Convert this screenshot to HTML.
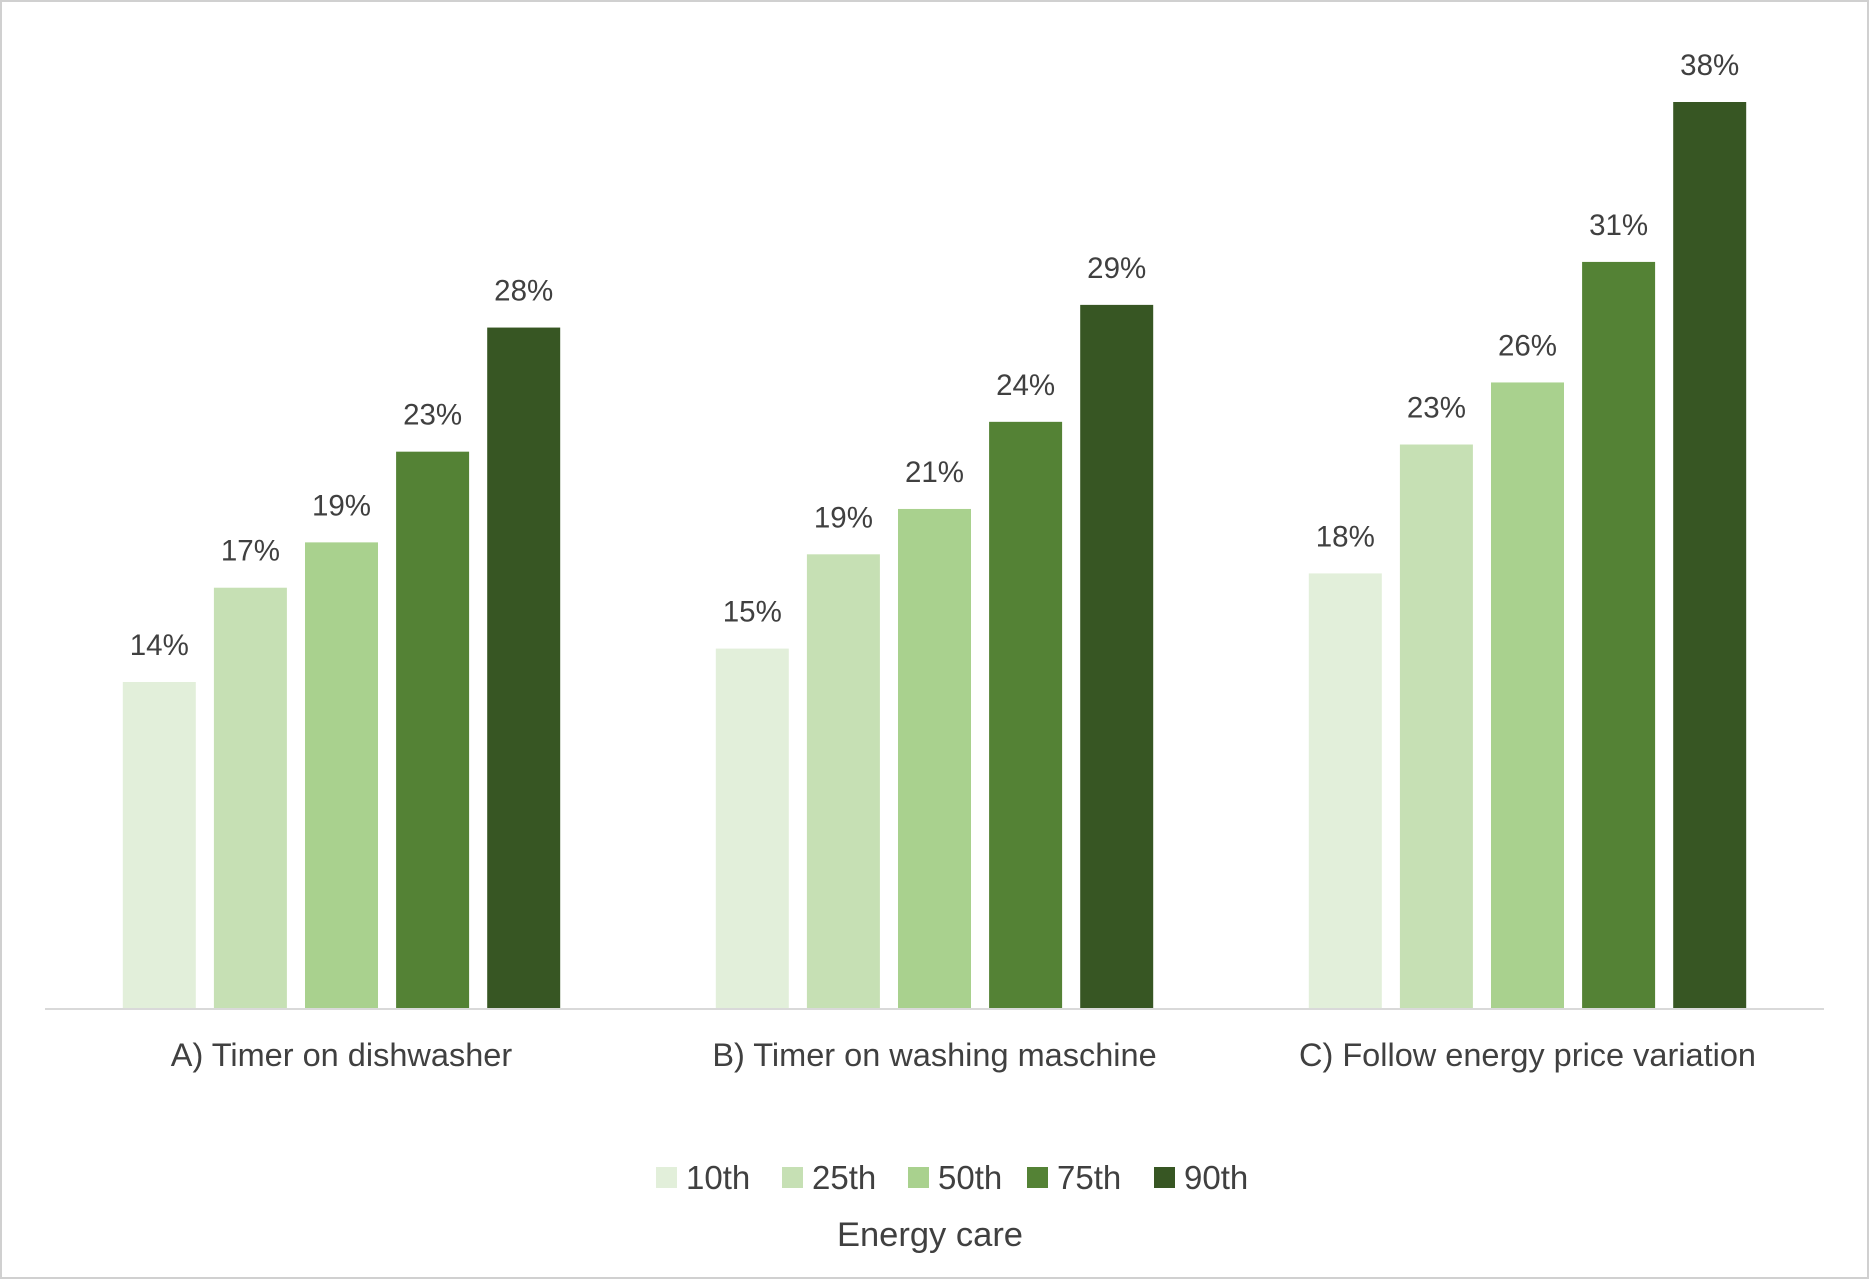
<!DOCTYPE html>
<html><head><meta charset="utf-8"><style>
html,body{margin:0;padding:0;background:#fff}
svg{display:block}
text{font-family:"Liberation Sans",sans-serif;fill:#404040}
</style></head><body>
<svg id="chart" width="1869" height="1279" viewBox="0 0 1869 1279">
<rect x="1" y="1" width="1867" height="1277" fill="#fff" stroke="#d0d0d0" stroke-width="2"/>
<g id="bars"></g>
<line x1="45" y1="1009" x2="1824" y2="1009" stroke="#d9d9d9" stroke-width="2"/>
<g id="cats"></g>
<g id="legend"></g>
<text x="930" y="1246" text-anchor="middle" font-size="34.5">Energy care</text>
</svg>
<script>
const categories = ["A) Timer on dishwasher", "B) Timer on washing maschine", "C) Follow energy price variation"];
const seriesNames = ["10th", "25th", "50th", "75th", "90th"];
const s10 = [13.7, 15.1, 18.25];
const s25 = [17.65, 19.05, 23.65];
const s50 = [19.55, 20.95, 26.25];
const s75 = [23.35, 24.6, 31.3];
const s90 = [28.55, 29.5, 38.0];
const labels10 = ["14%", "15%", "18%"];
const labels25 = ["17%", "19%", "23%"];
const labels50 = ["19%", "21%", "26%"];
const labels75 = ["23%", "24%", "31%"];
const labels90 = ["28%", "29%", "38%"];
const colors = ["#E2EFDA", "#C6E0B4", "#A9D18E", "#548235", "#375623"];
const series = [s10, s25, s50, s75, s90];
const seriesLabels = [labels10, labels25, labels50, labels75, labels90];

const NS = "http://www.w3.org/2000/svg";
const plotL = 45, plotR = 1824, baseY = 1009, topY = 102, maxV = 38.0;
const groupW = (plotR - plotL) / categories.length;
const barW = 73, step = 91.1;
function yScale(v){ return baseY - (v / maxV) * (baseY - topY); }
function xBar(ci, si){ return plotL + groupW * ci + groupW / 2 + (si - 2) * step - barW / 2; }

const gb = document.getElementById("bars");
series.forEach((arr, si) => {
  arr.forEach((v, ci) => {
    const r = document.createElementNS(NS, "rect");
    
    
    const x = xBar(ci, si), y = yScale(v);
    r.setAttribute("x", x); r.setAttribute("y", y);
    r.setAttribute("width", barW); r.setAttribute("height", baseY - y);
    r.setAttribute("fill", colors[si]);
    gb.appendChild(r);
    const t = document.createElementNS(NS, "text");
    
    
    t.setAttribute("x", x + barW / 2); t.setAttribute("y", y - 27);
    t.setAttribute("text-anchor", "middle"); t.setAttribute("font-size", "29.5");
    t.textContent = seriesLabels[si][ci];
    gb.appendChild(t);
  });
});
const gc = document.getElementById("cats");
categories.forEach((c, ci) => {
  const t = document.createElementNS(NS, "text");
  
  
  t.setAttribute("x", plotL + groupW * ci + groupW / 2); t.setAttribute("y", 1066);
  t.setAttribute("text-anchor", "middle"); t.setAttribute("font-size", "32.5");
  t.textContent = c;
  gc.appendChild(t);
});
const gl = document.getElementById("legend");
const legX = [656, 782, 908, 1027, 1154];
seriesNames.forEach((n, i) => {
  const r = document.createElementNS(NS, "rect");
  
  
  r.setAttribute("x", legX[i]); r.setAttribute("y", 1167);
  r.setAttribute("width", 21); r.setAttribute("height", 21);
  r.setAttribute("fill", colors[i]);
  gl.appendChild(r);
  const t = document.createElementNS(NS, "text");
  
  
  t.setAttribute("x", legX[i] + 30); t.setAttribute("y", 1189);
  t.setAttribute("font-size", "33");
  t.textContent = n;
  gl.appendChild(t);
});
</script>
</body></html>
